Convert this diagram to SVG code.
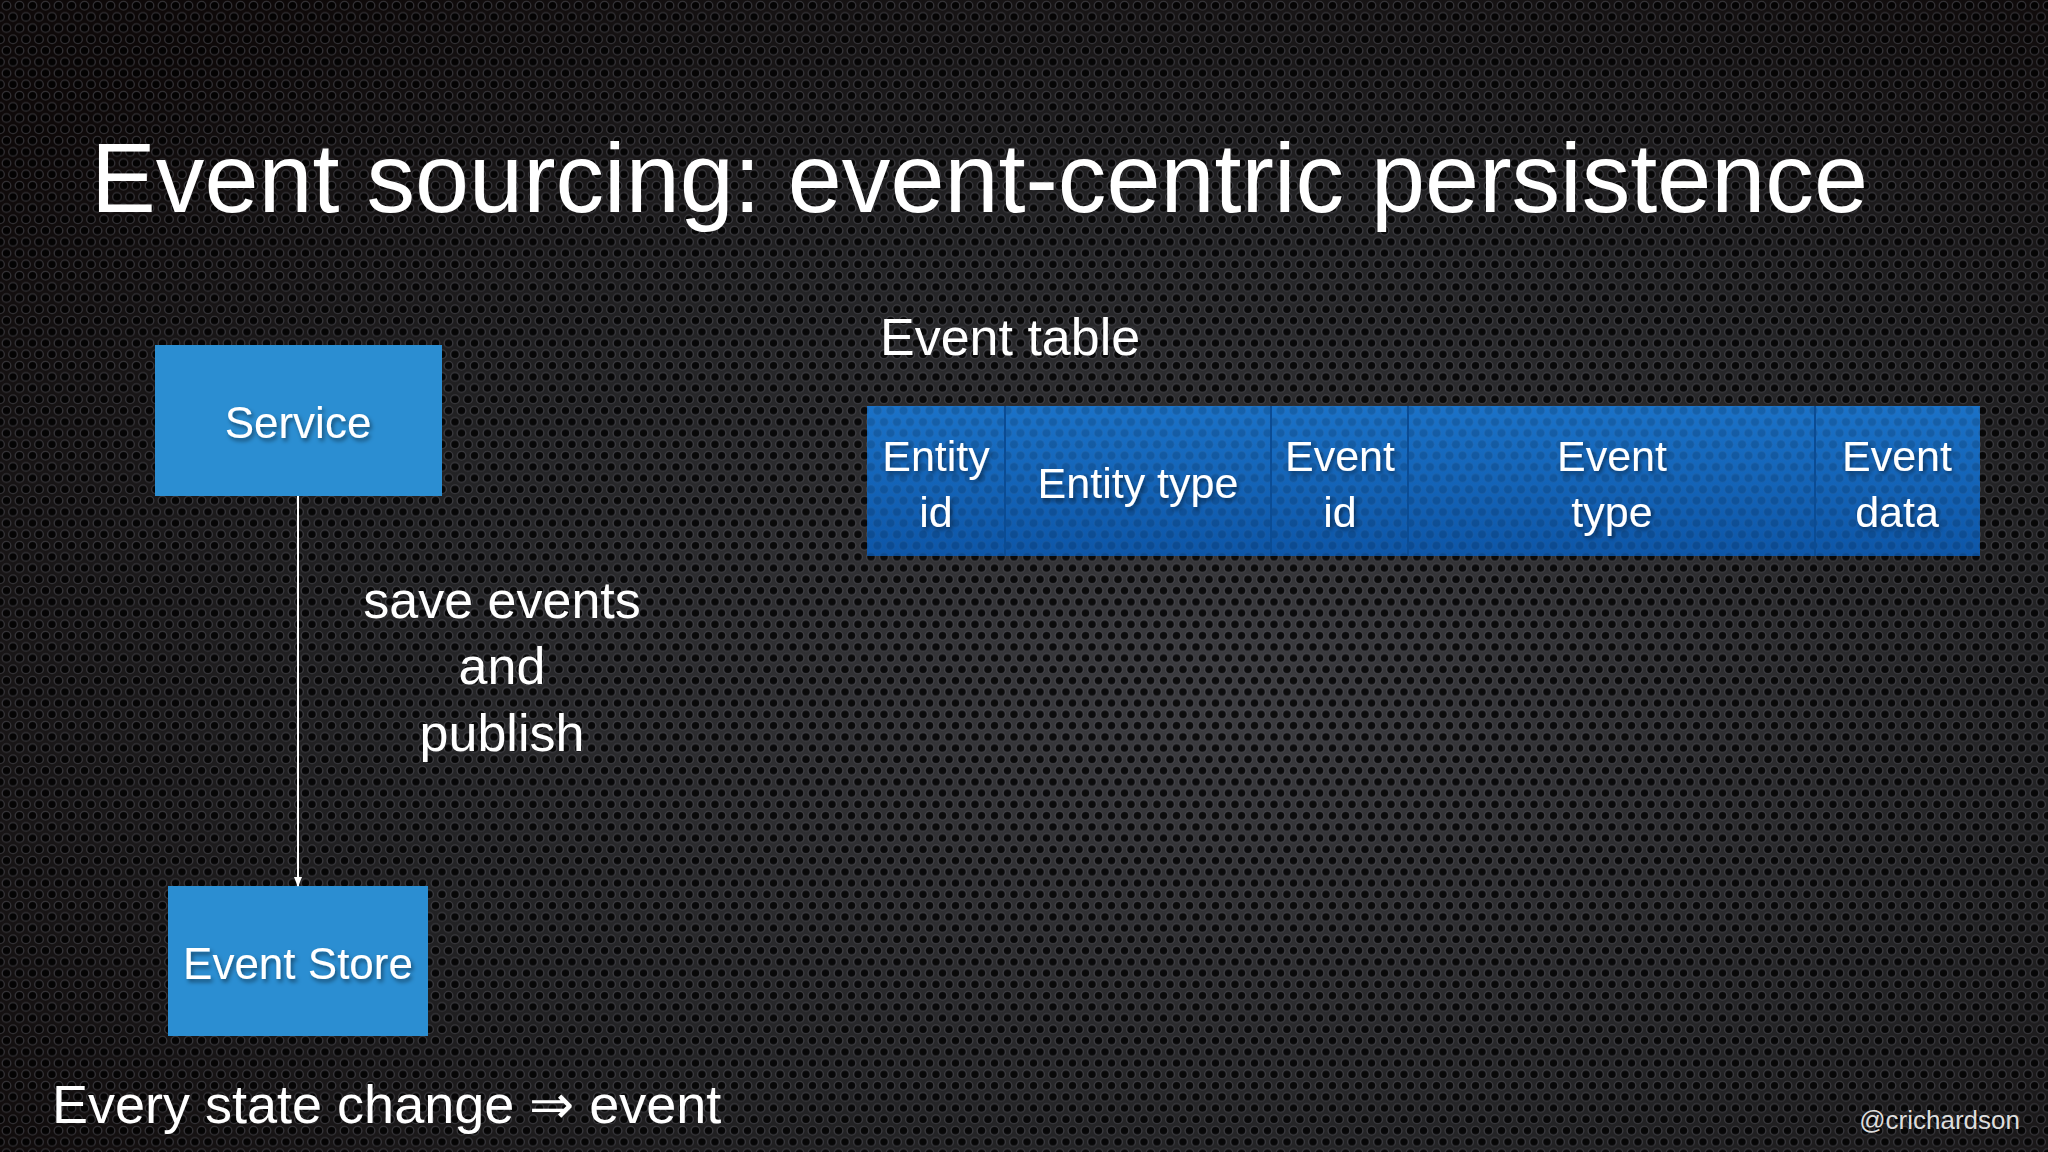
<svg xmlns="http://www.w3.org/2000/svg" width="2048" height="1152" viewBox="0 0 2048 1152">
<defs>
<radialGradient id="bg" cx="0.6" cy="0.6" r="0.75">
<stop offset="0" stop-color="#3c3c40"/>
<stop offset="0.55" stop-color="#232325"/>
<stop offset="1" stop-color="#0e0909"/>
</radialGradient>
<pattern id="holes" width="13" height="22.5" patternUnits="userSpaceOnUse">
<circle cx="6.5" cy="5.6" r="4.3" fill="#000" fill-opacity="0.8" stroke="#70707a" stroke-opacity="0.4" stroke-width="1.3"/>
<circle cx="0" cy="16.9" r="4.3" fill="#000" fill-opacity="0.8" stroke="#70707a" stroke-opacity="0.4" stroke-width="1.3"/>
<circle cx="13" cy="16.9" r="4.3" fill="#000" fill-opacity="0.8" stroke="#70707a" stroke-opacity="0.4" stroke-width="1.3"/>
</pattern>
<linearGradient id="tbl" x1="0" y1="0" x2="0" y2="1">
<stop offset="0" stop-color="#1a72c8"/>
<stop offset="1" stop-color="#0d56a8"/>
</linearGradient>
<filter id="sh" x="-10%" y="-30%" width="120%" height="160%">
<feDropShadow dx="2" dy="3" stdDeviation="2" flood-color="#000" flood-opacity="0.45"/>
</filter>
<marker id="ah" markerWidth="10" markerHeight="10" refX="9" refY="5" orient="auto" markerUnits="userSpaceOnUse">
<path d="M0,1 L10,5 L0,9 Z" fill="#fff"/>
</marker>
</defs>
<style>
text{font-family:"Liberation Sans",Arial,Helvetica,sans-serif;fill:#fff}
.box{fill:#2b8ed2}
.bt{font-size:44px;text-anchor:middle;filter:url(#sh)}
.tt{font-size:43px;text-anchor:middle;filter:url(#sh)}
.lbl{font-size:52px}
.div{stroke:#0b4c94;stroke-width:2}
</style>
<rect width="2048" height="1152" fill="url(#bg)"/>
<rect width="2048" height="1152" fill="url(#holes)"/>

<text x="91" y="212" font-size="98" textLength="1777" lengthAdjust="spacingAndGlyphs">Event sourcing: event-centric persistence</text>

<g id="service">
<rect class="box" x="155" y="345" width="287" height="151"/>
<text class="bt" x="298" y="438">Service</text>
</g>

<g id="event-store">
<rect class="box" x="168" y="886" width="260" height="150"/>
<text class="bt" x="298" y="979">Event Store</text>
</g>

<g id="connectors">
<line x1="298" y1="496" x2="298" y2="886" stroke="#fff" stroke-width="2" marker-end="url(#ah)"/>
<text class="lbl" x="502" y="618" text-anchor="middle">save events</text>
<text class="lbl" x="502" y="684" text-anchor="middle">and</text>
<text class="lbl" x="502" y="751" text-anchor="middle">publish</text>
</g>

<text class="lbl" x="880" y="355">Event table</text>

<g id="event-table">
<rect x="867" y="406" width="1113" height="150" fill="url(#tbl)"/>
<rect x="867" y="406" width="1113" height="150" fill="url(#holes)" opacity="0.18"/>
<line class="div" x1="1005" y1="406" x2="1005" y2="556"/>
<line class="div" x1="1271" y1="406" x2="1271" y2="556"/>
<line class="div" x1="1408" y1="406" x2="1408" y2="556"/>
<line class="div" x1="1815" y1="406" x2="1815" y2="556"/>
<text class="tt" x="936" y="471">Entity</text>
<text class="tt" x="936" y="527">id</text>
<text class="tt" x="1138" y="498">Entity type</text>
<text class="tt" x="1340" y="471">Event</text>
<text class="tt" x="1340" y="527">id</text>
<text class="tt" x="1612" y="471">Event</text>
<text class="tt" x="1612" y="527">type</text>
<text class="tt" x="1897" y="471">Event</text>
<text class="tt" x="1897" y="527">data</text>
</g>

<text x="52" y="1123" font-size="54">Every state change ⇒ event</text>
<text x="2020" y="1129" font-size="26" text-anchor="end" style="fill:#dddddd">@crichardson</text>
</svg>
